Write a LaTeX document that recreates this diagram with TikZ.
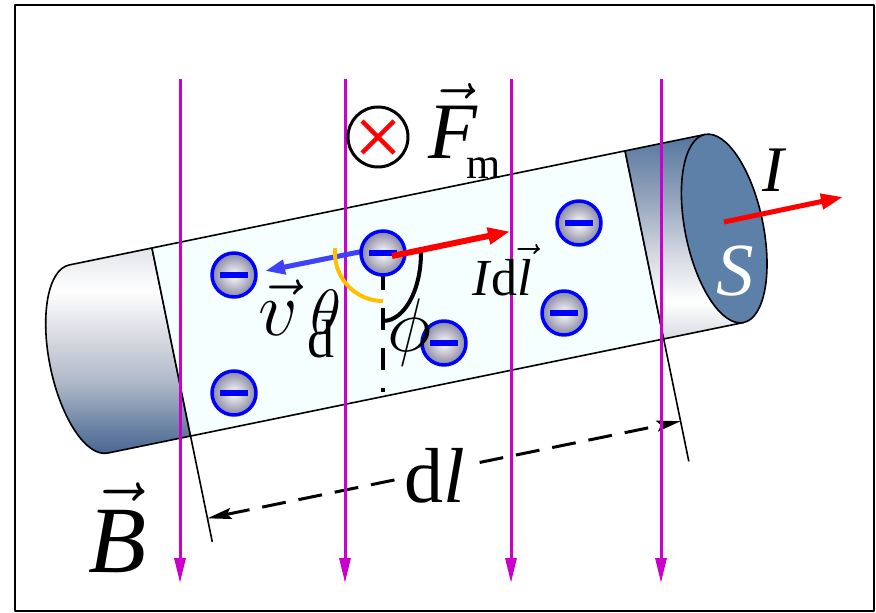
\RequirePackage{fix-cm}
\documentclass[tikz,border=0pt]{standalone}
\usepackage{fontspec}
\setmainfont{Liberation Serif}
\usetikzlibrary{arrows.meta}

% palette
\definecolor{field}{RGB}{204,0,204}
\definecolor{tube}{RGB}{245,255,255}
\definecolor{capface}{RGB}{92,128,168}
\definecolor{eblue}{RGB}{0,0,255}
\definecolor{egray}{RGB}{135,135,162}
\definecolor{vblue}{RGB}{64,64,255}
\definecolor{amber}{RGB}{255,192,0}
\definecolor{cLtop}{RGB}{225,228,232}
\definecolor{cLlight}{RGB}{220,222,228}
\definecolor{cLmid}{RGB}{175,185,200}
\definecolor{cLlow}{RGB}{100,125,160}
\definecolor{cLbot}{RGB}{70,100,145}
\definecolor{cRtop}{RGB}{88,120,160}
\definecolor{cRmid}{RGB}{150,165,190}
\definecolor{cRlight}{RGB}{210,215,225}
\definecolor{cRbot}{RGB}{215,218,225}

% end-cap shadings of the wire
\pgfdeclareverticalshading{capleft}{100bp}{color(0bp)=(cLbot); color(25bp)=(cLbot);
  color(31bp)=(cLlow); color(43bp)=(cLmid); color(55bp)=(cLlight); color(65bp)=(white);
  color(75bp)=(cLtop); color(100bp)=(cLtop)}
\pgfdeclareverticalshading{capright}{100bp}{color(0bp)=(cRbot); color(25bp)=(cRbot);
  color(34bp)=(white); color(46bp)=(cRlight); color(59bp)=(cRmid); color(74bp)=(cRtop);
  color(100bp)=(cRtop)}

\newcommand{\fsz}[1]{\fontsize{#1pt}{#1pt}\selectfont}

\tikzset{
  outline/.style={line width=1.6pt},
  fieldline/.style={draw=field, line width=3pt, -{Triangle[length=25pt,width=11pt]}},
  electron/.style={circle, minimum size=44pt, inner sep=0pt, draw=eblue, line width=3.5pt,
    inner color=white, outer color=egray,
    path picture={\fill[eblue] ([xshift=-14pt,yshift=-3pt]path picture bounding box.center)
      rectangle ([xshift=14pt,yshift=3pt]path picture bounding box.center);}},
  redarrow/.style={draw=red, line width=6pt, -{Triangle[length=22pt,width=16pt]}},
  bluearrow/.style={draw=vblue, line width=5pt, -{Triangle[length=20pt,width=14pt]}},
  dimline/.style={line width=3pt, dash pattern=on 24pt off 13pt,
    {Stealth[length=24pt,width=11pt,inset=4pt]}-{Stealth[length=24pt,width=11pt,inset=4pt]}},
  lbl/.style={inner sep=0pt, anchor=base west},
}

\begin{document}
\begin{tikzpicture}[x=1pt, y=-1pt, line join=round]
\useasboundingbox (0,0) rectangle (876,613);
\draw[line width=1.5pt] (15,5) rectangle (874,611);

% the wire, drawn along its own axis
\begin{scope}[shift={(88.5,359)}, rotate=11.6]
  \shade[shading=capleft, draw, outline] (0,-96)
    arc[start angle=270, end angle=90, x radius=39, y radius=96]
    -- (84.5,96) -- (84.5,-96) -- cycle;
  \filldraw[fill=tube, outline] (84.5,-96) -- (567.5,-96) -- (567.5,96) -- (84.5,96) -- cycle;
  \shade[shading=capright, draw, outline] (567.5,-96) -- (649,-96) -- (649,96) -- (567.5,96) -- cycle;
  \filldraw[fill=capface, outline] (649,0) ellipse[x radius=39, y radius=96];
  \coordinate (extL) at (84.5,96);   \coordinate (extLend) at (84.5,204);
  \coordinate (extR) at (567.5,96);  \coordinate (extRend) at (567.5,221);
  \coordinate (dimL) at (84.5,180);  \coordinate (dimR) at (567.5,180);
\end{scope}

% length element dl
\draw[outline] (extL) -- (extLend);
\draw[outline] (extR) -- (extRend);
\draw[dimline] (dimL) -- (dimR);
\node[lbl, fill=white, inner sep=3pt] (dl) at (401,502) {\fsz{78}d\textit{l}};

% magnetic field lines
\foreach \x/\n in {180/b1,345/b2,511/b3,661/b4}{
  \coordinate (\n top) at (\x,79);
  \coordinate (\n end) at (\x,583);
  \draw[fieldline] (\n top) -- (\n end);
}

% dashed normal through the central charge
\coordinate (vd0) at (383,268);
\coordinate (vd1) at (383,392);
\draw[line width=4.5pt, dash pattern=on 22pt off 18pt] (vd0) -- (vd1);

% drift velocity
\coordinate (v0) at (364,251);
\coordinate (v1) at (265,271);
\draw[bluearrow] (v0) -- (v1);

% free electrons
\node[electron] (e1) at (234,275) {};
\node[electron] (e2) at (383,253) {};
\node[electron] (e3) at (579,223) {};
\node[electron] (e4) at (564,313) {};
\node[electron] (e5) at (444,343) {};
\node[electron] (e6) at (234,393) {};

% angles theta and phi
\draw[amber, line width=4pt] ([shift={(186:48)}]e2.center) arc[start angle=186, end angle=90, radius=48];
\draw[line width=4pt] ([shift={(-3:38 and 68)}]e2.center) arc[start angle=-3, end angle=90, x radius=38, y radius=68];

% current element and current
\coordinate (i0) at (392,256);
\coordinate (i1) at (510,231.5);
\draw[redarrow] (i0) -- (i1);
\coordinate (I0) at (724,222);
\coordinate (I1) at (843,197);
\draw[draw=red, line width=5pt, -{Triangle[length=22pt,width=15pt]}] (I0) -- (I1);

% force into the page
\node[circle, draw, line width=3pt, minimum size=60pt, inner sep=0pt,
  path picture={\draw[red, line width=4.5pt]
    ([shift={(-16,-16)}]path picture bounding box.center) -- ([shift={(16,16)}]path picture bounding box.center)
    ([shift={(-16,16)}]path picture bounding box.center) -- ([shift={(16,-16)}]path picture bounding box.center);}]
  (fm) at (378,137) {};

% labels
\node[lbl] (Fl) at (428,158) {\fsz{80}$\vec{\mbox{\itshape F}}$};
\node[lbl] (Fsub) at (466,178) {\fsz{44}m};
\node[lbl] (Bl) at (88,572) {\fsz{95}$\vec{\mbox{\itshape B}}$};
\node[lbl] (vl) at (258,335) {\fsz{78}$\vec{v}$};
\node[lbl] (vsub) at (307,357) {\fsz{54}d};
\node[inner sep=0pt] (th) at (326,312) {\fsz{64}$\theta$};
\node[inner sep=0pt] (ph) at (410,332) {\fsz{76}$\phi$};
\node[lbl] (Idl) at (472,295) {\fsz{52}\textit{I}d$\vec{\mbox{\itshape l}}$};
\node[lbl] (Il) at (762,191) {\fsz{65}\textit{I}};
\node[lbl, text=white] (Sl) at (716,295) {\fsz{75}\textit{S}};
\end{tikzpicture}
\end{document}
